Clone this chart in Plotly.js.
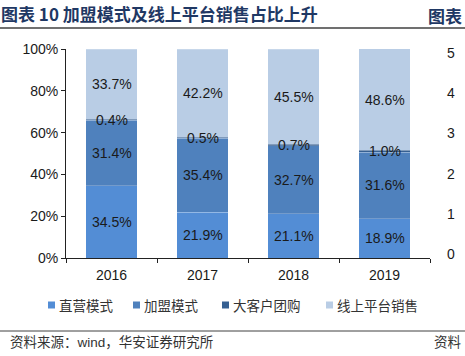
<!DOCTYPE html>
<html>
<head>
<meta charset="utf-8">
<script src="https://cdn.plot.ly/plotly-3.0.1.min.js"></script>
<style>html,body{margin:0;padding:0;background:#fff;}#chart{width:465px;height:356px;}</style>
</head>
<body>
<div id="chart"></div>
<script>
// ---- data ----
const years = ['2016', '2017', '2018', '2019'];
const directSales = [34.5, 21.9, 21.1, 18.9];     // 直营模式
const franchiseSales = [31.4, 35.4, 32.7, 31.6];  // 加盟模式
const groupBuySales = [0.4, 0.5, 0.7, 1.0];       // 大客户团购
const onlineSales = [33.7, 42.2, 45.5, 48.6];     // 线上平台销售
const seriesNames = ['直营模式', '加盟模式', '大客户团购', '线上平台销售'];
const yTickVals = [0, 20, 40, 60, 80, 100];
const yTickText = ['0%', '20%', '40%', '60%', '80%', '100%'];
const rightTickVals = [0, 1, 2, 3, 4, 5];
const titleText = '图表 10 加盟模式及线上平台销售占比上升';
const sourceText = '资料来源：wind，华安证券研究所';

// ---- styling ----
const colors = ['#538DD5', '#4F81BD', '#366092', '#B9CDE5'];
const FONT = 'Liberation Sans, Arial, Noto Sans CJK SC, sans-serif';
const CJK = 'Noto Sans CJK SC, Liberation Sans, sans-serif';
const seriesData = [directSales, franchiseSales, groupBuySales, onlineSales];

const L = 66, PW = 394, T = 49, PH = 209;
const px = (x) => (x - L) / PW;
const py = (y) => (T + PH - y) / PH;

const traces = [];
seriesData.forEach((vals, i) => {
  traces.push({
    type: 'bar', x: years, y: vals, name: seriesNames[i],
    marker: {color: colors[i], line: {width: 0.6, color: 'rgba(255,255,255,0.35)'}},
    width: 0.57, showlegend: false, hoverinfo: 'x+y+name'
  });
});
// right axis carrier
traces.push({type: 'scatter', mode: 'markers', x: [null], y: [null], yaxis: 'y2', showlegend: false, hoverinfo: 'skip'});

// value labels at segment centres
const annotations = [];
const shapes = [];
const cum = years.map(() => 0);
seriesData.forEach((vals) => {
  vals.forEach((v, j) => {
    annotations.push({
      x: j, y: cum[j] + v / 2, xref: 'x', yref: 'y',
      text: v.toFixed(1) + '%', showarrow: false,
      font: {family: FONT, size: 14, color: '#1a1a1a'}
    });
    cum[j] += v;
  });
});

// legend (markers + labels)
const legendMarkerX = [48, 133, 222, 326];
const legendY = 305;
seriesNames.forEach((name, i) => {
  const x0 = legendMarkerX[i];
  shapes.push({type: 'rect', xref: 'paper', yref: 'paper',
    x0: px(x0), x1: px(x0 + 7), y0: py(legendY + 3.5), y1: py(legendY - 3.5),
    fillcolor: colors[i], line: {width: 0}});
  annotations.push({xref: 'paper', yref: 'paper', x: px(x0 + 9), y: py(legendY), xanchor: 'left', yanchor: 'middle',
    text: name, showarrow: false, font: {family: CJK, size: 13.5, color: '#333'}});
});

annotations.push({xref: 'paper', yref: 'paper', x: px(8), y: py(342), xanchor: 'left', yanchor: 'middle',
  text: sourceText, showarrow: false, font: {family: FONT, size: 13.5, color: '#333'}});
annotations.push({xref: 'paper', yref: 'paper', x: px(464), y: py(342), xanchor: 'right', yanchor: 'middle',
  text: '资料', showarrow: false, font: {family: FONT, size: 13.5, color: '#333'}});
annotations.push({xref: 'paper', yref: 'paper', x: px(464), y: py(15), xanchor: 'right', yanchor: 'middle',
  text: '<b>图表</b>', showarrow: false, font: {family: CJK, size: 17, color: '#1F3864'}});

shapes.push({type: 'line', xref: 'paper', yref: 'paper', x0: px(0), x1: px(465), y0: py(28), y1: py(28),
  line: {color: '#404040', width: 1.5}});
shapes.push({type: 'line', xref: 'paper', yref: 'paper', x0: px(0), x1: px(465), y0: py(331), y1: py(331),
  line: {color: '#404040', width: 1}});

const layout = {
  width: 465, height: 356,
  margin: {l: L, r: 465 - L - PW, t: T, b: 356 - T - PH, pad: 0},
  paper_bgcolor: '#fff', plot_bgcolor: '#fff',
  barmode: 'stack', bargap: 0.43,
  title: {text: '<b>' + titleText + '</b>', xref: 'container', yref: 'container',
    x: 1 / 465, xanchor: 'left', y: 1 - 15 / 356, yanchor: 'middle',
    font: {family: CJK, size: 17, color: '#1F3864'}},
  xaxis: {type: 'category', domain: [0, 364 / PW], range: [-0.5, 3.5],
    showline: true, linecolor: '#222', linewidth: 1, ticks: 'outside', tickson: 'boundaries',
    ticklen: 4, tickcolor: '#222', showgrid: false, zeroline: false, ticklabelstandoff: 4,
    tickfont: {family: FONT, size: 14, color: '#1a1a1a'}, fixedrange: true},
  yaxis: {range: [0, 100], tickvals: yTickVals, ticktext: yTickText,
    showline: true, linecolor: '#222', linewidth: 1, ticks: 'outside', ticklen: 4, tickcolor: '#222',
    showgrid: false, zeroline: false, tickfont: {family: FONT, size: 14, color: '#1a1a1a'}, fixedrange: true},
  yaxis2: {overlaying: 'y', side: 'right', anchor: 'free', position: px(446),
    range: [-0.1, 5.1], tickvals: rightTickVals, showline: false, ticks: '', showgrid: false, zeroline: false,
    tickfont: {family: FONT, size: 14, color: '#1a1a1a'}, fixedrange: true},
  shapes: shapes,
  annotations: annotations,
  showlegend: false
};

Plotly.newPlot('chart', traces, layout, {displayModeBar: false, staticPlot: true});
</script>
</body>
</html>
